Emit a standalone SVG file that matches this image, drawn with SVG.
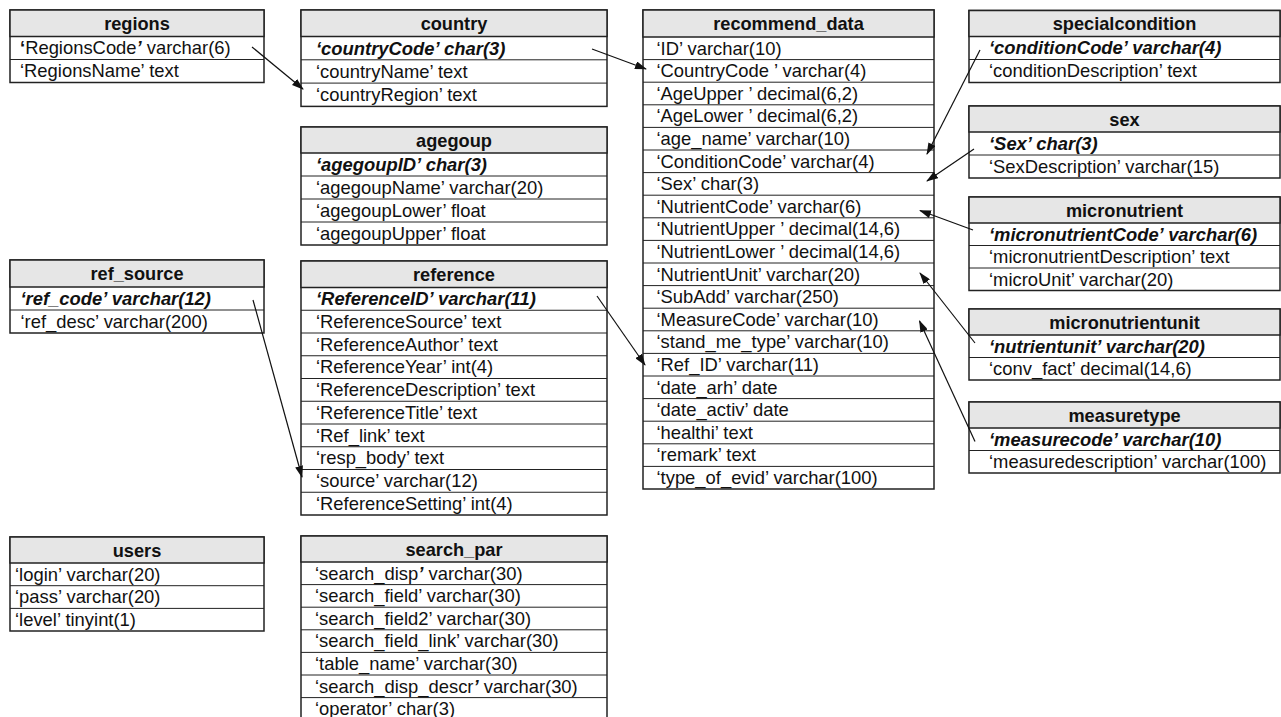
<svg xmlns="http://www.w3.org/2000/svg" width="1281" height="717" viewBox="0 0 1281 717">
<style>
text{font-family:"Liberation Sans",Arial,Helvetica,sans-serif;font-size:18.4px;fill:#111}
.h{font-weight:bold;text-anchor:middle;font-size:18.2px}
.k{font-weight:bold;font-style:italic}
.b{font-weight:bold}
.bi{font-weight:bold;font-style:italic}
.box{fill:#fff;stroke:#222;stroke-width:1.5}
.hd{fill:#e6e6e6;stroke:#222;stroke-width:1.5}
.rl{stroke:#222;stroke-width:1}
.cn{stroke:#111;stroke-width:1.2;fill:none;marker-end:url(#ah)}
</style>
<defs>
<marker id="ah" markerUnits="userSpaceOnUse" markerWidth="12" markerHeight="8" refX="11" refY="4" orient="auto">
<path d="M0,0 L12,4 L0,8 z" fill="#111"/>
</marker>
</defs>
<rect width="1281" height="717" fill="#fff"/>

<g id="regions">
<rect class="box" x="10" y="10" width="254" height="72.5"/>
<rect class="hd" x="10" y="10" width="254" height="26.5"/>
<line class="rl" x1="10" y1="59.5" x2="264" y2="59.5"/>
<text class="h" x="137" y="30">regions</text>
<text x="20" y="54.3"><tspan class="b">‘</tspan>RegionsCode<tspan class="bi">’</tspan> varchar(6)</text>
<text x="20" y="77.3">‘RegionsName’ text</text>
</g>

<g id="country">
<rect class="box" x="301" y="10" width="306" height="96.4"/>
<rect class="hd" x="301" y="10" width="306" height="26.5"/>
<line class="rl" x1="301" y1="59.8" x2="607" y2="59.8"/>
<line class="rl" x1="301" y1="83.1" x2="607" y2="83.1"/>
<text class="h" x="454" y="30">country</text>
<text class="k" x="316" y="54.5">‘countryCode’ char(3)</text>
<text x="316" y="77.8">‘countryName’ text</text>
<text x="316" y="101">‘countryRegion’ text</text>
</g>

<g id="agegoup">
<rect class="box" x="301" y="127" width="306" height="118"/>
<rect class="hd" x="301" y="127" width="306" height="26"/>
<line class="rl" x1="301" y1="176" x2="607" y2="176"/>
<line class="rl" x1="301" y1="199" x2="607" y2="199"/>
<line class="rl" x1="301" y1="222" x2="607" y2="222"/>
<text class="h" x="454" y="146.5">agegoup</text>
<text class="k" x="316" y="170.8">‘agegoupID’ char(3)</text>
<text x="316" y="193.8">‘agegoupName’ varchar(20)</text>
<text x="316" y="216.8">‘agegoupLower’ float</text>
<text x="316" y="239.8">‘agegoupUpper’ float</text>
</g>

<g id="recommend_data">
<rect class="box" x="643" y="10" width="291" height="479"/>
<rect class="hd" x="643" y="10" width="291" height="27"/>
<g class="rl">
<line x1="643" y1="59.6" x2="934" y2="59.6"/>
<line x1="643" y1="82.2" x2="934" y2="82.2"/>
<line x1="643" y1="104.8" x2="934" y2="104.8"/>
<line x1="643" y1="127.4" x2="934" y2="127.4"/>
<line x1="643" y1="150" x2="934" y2="150"/>
<line x1="643" y1="172.6" x2="934" y2="172.6"/>
<line x1="643" y1="195.2" x2="934" y2="195.2"/>
<line x1="643" y1="217.8" x2="934" y2="217.8"/>
<line x1="643" y1="240.4" x2="934" y2="240.4"/>
<line x1="643" y1="263" x2="934" y2="263"/>
<line x1="643" y1="285.6" x2="934" y2="285.6"/>
<line x1="643" y1="308.2" x2="934" y2="308.2"/>
<line x1="643" y1="330.8" x2="934" y2="330.8"/>
<line x1="643" y1="353.4" x2="934" y2="353.4"/>
<line x1="643" y1="376" x2="934" y2="376"/>
<line x1="643" y1="398.6" x2="934" y2="398.6"/>
<line x1="643" y1="421.2" x2="934" y2="421.2"/>
<line x1="643" y1="443.8" x2="934" y2="443.8"/>
<line x1="643" y1="466.4" x2="934" y2="466.4"/>
</g>
<text class="h" x="788.5" y="30">recommend_data</text>
<text x="656.5" y="54.6">‘ID’ varchar(10)</text>
<text x="656.5" y="77.2">‘CountryCode ’ varchar(4)</text>
<text x="656.5" y="99.8">‘AgeUpper ’ decimal(6,2)</text>
<text x="656.5" y="122.4">‘AgeLower ’ decimal(6,2)</text>
<text x="656.5" y="145">‘age_name’ varchar(10)</text>
<text x="656.5" y="167.6">‘ConditionCode’ varchar(4)</text>
<text x="656.5" y="190.2">‘Sex’ char(3)</text>
<text x="656.5" y="212.8">‘NutrientCode’ varchar(6)</text>
<text x="656.5" y="235.4">‘NutrientUpper ’ decimal(14,6)</text>
<text x="656.5" y="258">‘NutrientLower ’ decimal(14,6)</text>
<text x="656.5" y="280.6">‘NutrientUnit’ varchar(20)</text>
<text x="656.5" y="303.2">‘SubAdd’ varchar(250)</text>
<text x="656.5" y="325.8">‘MeasureCode’ varchar(10)</text>
<text x="656.5" y="348.4">‘stand_me_type’ varchar(10)</text>
<text x="656.5" y="371">‘Ref_ID’ varchar(11)</text>
<text x="656.5" y="393.6">‘date_arh’ date</text>
<text x="656.5" y="416.2">‘date_activ’ date</text>
<text x="656.5" y="438.8">‘healthi’ text</text>
<text x="656.5" y="461.4">‘remark’ text</text>
<text x="656.5" y="484">‘type_of_evid’ varchar(100)</text>
</g>

<g id="specialcondition">
<rect class="box" x="969" y="10.5" width="311" height="72"/>
<rect class="hd" x="969" y="10.5" width="311" height="26"/>
<line class="rl" x1="969" y1="59.5" x2="1280" y2="59.5"/>
<text class="h" x="1124.5" y="30">specialcondition</text>
<text class="k" x="989" y="54.3">‘conditionCode’ varchar(4)</text>
<text x="989" y="77.3">‘conditionDescription’ text</text>
</g>

<g id="sex">
<rect class="box" x="969" y="106" width="311" height="72"/>
<rect class="hd" x="969" y="106" width="311" height="26"/>
<line class="rl" x1="969" y1="155" x2="1280" y2="155"/>
<text class="h" x="1124.5" y="125.5">sex</text>
<text class="k" x="989" y="149.8">‘Sex’ char(3)</text>
<text x="989" y="172.8">‘SexDescription’ varchar(15)</text>
</g>

<g id="micronutrient">
<rect class="box" x="969" y="197" width="311" height="93.5"/>
<rect class="hd" x="969" y="197" width="311" height="26"/>
<line class="rl" x1="969" y1="245.5" x2="1280" y2="245.5"/>
<line class="rl" x1="969" y1="268" x2="1280" y2="268"/>
<text class="h" x="1124.5" y="216.5">micronutrient</text>
<text class="k" x="989" y="240.5">‘micronutrientCode’ varchar(6)</text>
<text x="989" y="263">‘micronutrientDescription’ text</text>
<text x="989" y="285.5">‘microUnit’ varchar(20)</text>
</g>

<g id="micronutrientunit">
<rect class="box" x="969" y="309" width="311" height="71"/>
<rect class="hd" x="969" y="309" width="311" height="26"/>
<line class="rl" x1="969" y1="357.5" x2="1280" y2="357.5"/>
<text class="h" x="1124.5" y="328.5">micronutrientunit</text>
<text class="k" x="989" y="352.5">‘nutrientunit’ varchar(20)</text>
<text x="989" y="375">‘conv_fact’ decimal(14,6)</text>
</g>

<g id="measuretype">
<rect class="box" x="969" y="402" width="311" height="71"/>
<rect class="hd" x="969" y="402" width="311" height="26"/>
<line class="rl" x1="969" y1="450.5" x2="1280" y2="450.5"/>
<text class="h" x="1124.5" y="421.5">measuretype</text>
<text class="k" x="989" y="445.5">‘measurecode’ varchar(10)</text>
<text x="989" y="468">‘measuredescription’ varchar(100)</text>
</g>

<g id="ref_source">
<rect class="box" x="10" y="260" width="254" height="73"/>
<rect class="hd" x="10" y="260" width="254" height="27"/>
<line class="rl" x1="10" y1="310" x2="264" y2="310"/>
<text class="h" x="137" y="280">ref_source</text>
<text class="k" x="20.5" y="304.8">‘ref_code’ varchar(12)</text>
<text x="20.5" y="327.8">‘ref_desc’ varchar(200)</text>
</g>

<g id="reference">
<rect class="box" x="301" y="261" width="306" height="254"/>
<rect class="hd" x="301" y="261" width="306" height="26.5"/>
<g class="rl">
<line x1="301" y1="310.25" x2="607" y2="310.25"/>
<line x1="301" y1="333" x2="607" y2="333"/>
<line x1="301" y1="355.75" x2="607" y2="355.75"/>
<line x1="301" y1="378.5" x2="607" y2="378.5"/>
<line x1="301" y1="401.25" x2="607" y2="401.25"/>
<line x1="301" y1="424" x2="607" y2="424"/>
<line x1="301" y1="446.75" x2="607" y2="446.75"/>
<line x1="301" y1="469.5" x2="607" y2="469.5"/>
<line x1="301" y1="492.25" x2="607" y2="492.25"/>
</g>
<text class="h" x="454" y="280.8">reference</text>
<text class="k" x="316" y="305.2">‘ReferenceID’ varchar(11)</text>
<text x="316" y="327.95">‘ReferenceSource’ text</text>
<text x="316" y="350.7">‘ReferenceAuthor’ text</text>
<text x="316" y="373.45">‘ReferenceYear’ int(4)</text>
<text x="316" y="396.2">‘ReferenceDescription’ text</text>
<text x="316" y="418.95">‘ReferenceTitle’ text</text>
<text x="316" y="441.7">‘Ref_link’ text</text>
<text x="316" y="464.45">‘resp_body’ text</text>
<text x="316" y="487.2">‘source’ varchar(12)</text>
<text x="316" y="509.95">‘ReferenceSetting’ int(4)</text>
</g>

<g id="users">
<rect class="box" x="10" y="537" width="254" height="94"/>
<rect class="hd" x="10" y="537" width="254" height="26"/>
<line class="rl" x1="10" y1="585.7" x2="264" y2="585.7"/>
<line class="rl" x1="10" y1="608.4" x2="264" y2="608.4"/>
<text class="h" x="137" y="556.5">users</text>
<text x="15" y="580.6">‘login’ varchar(20)</text>
<text x="15" y="603.3">‘pass’ varchar(20)</text>
<text x="15" y="626">‘level’ tinyint(1)</text>
</g>

<g id="search_par">
<rect class="box" x="301" y="536" width="306" height="186"/>
<rect class="hd" x="301" y="536" width="306" height="26"/>
<g class="rl">
<line x1="301" y1="584.6" x2="607" y2="584.6"/>
<line x1="301" y1="607.2" x2="607" y2="607.2"/>
<line x1="301" y1="629.8" x2="607" y2="629.8"/>
<line x1="301" y1="652.4" x2="607" y2="652.4"/>
<line x1="301" y1="675" x2="607" y2="675"/>
<line x1="301" y1="697.6" x2="607" y2="697.6"/>
</g>
<text class="h" x="454" y="555.5">search_par</text>
<text x="315" y="579.6">‘search_disp<tspan class="bi">’</tspan> varchar(30)</text>
<text x="315" y="602.2">‘search_field’ varchar(30)</text>
<text x="315" y="624.8">‘search_field2’ varchar(30)</text>
<text x="315" y="647.4">‘search_field_link’ varchar(30)</text>
<text x="315" y="670">‘table_name’ varchar(30)</text>
<text x="315" y="692.6">‘search_disp_descr<tspan class="bi">’</tspan> varchar(30)</text>
<text x="315" y="715.2">‘operator’ char(3)</text>
</g>

<g id="connectors">
<line class="cn" x1="252" y1="47" x2="303" y2="89"/>
<line class="cn" x1="592" y1="49" x2="646" y2="69"/>
<line class="cn" x1="980" y1="50" x2="927" y2="154"/>
<line class="cn" x1="974" y1="149" x2="927" y2="181"/>
<line class="cn" x1="973" y1="230" x2="920" y2="210.5"/>
<line class="cn" x1="975" y1="343" x2="920" y2="273"/>
<line class="cn" x1="975" y1="441.5" x2="919.5" y2="321"/>
<line class="cn" x1="597" y1="296" x2="645" y2="365"/>
<line class="cn" x1="253" y1="300" x2="302" y2="477"/>
</g>
</svg>
